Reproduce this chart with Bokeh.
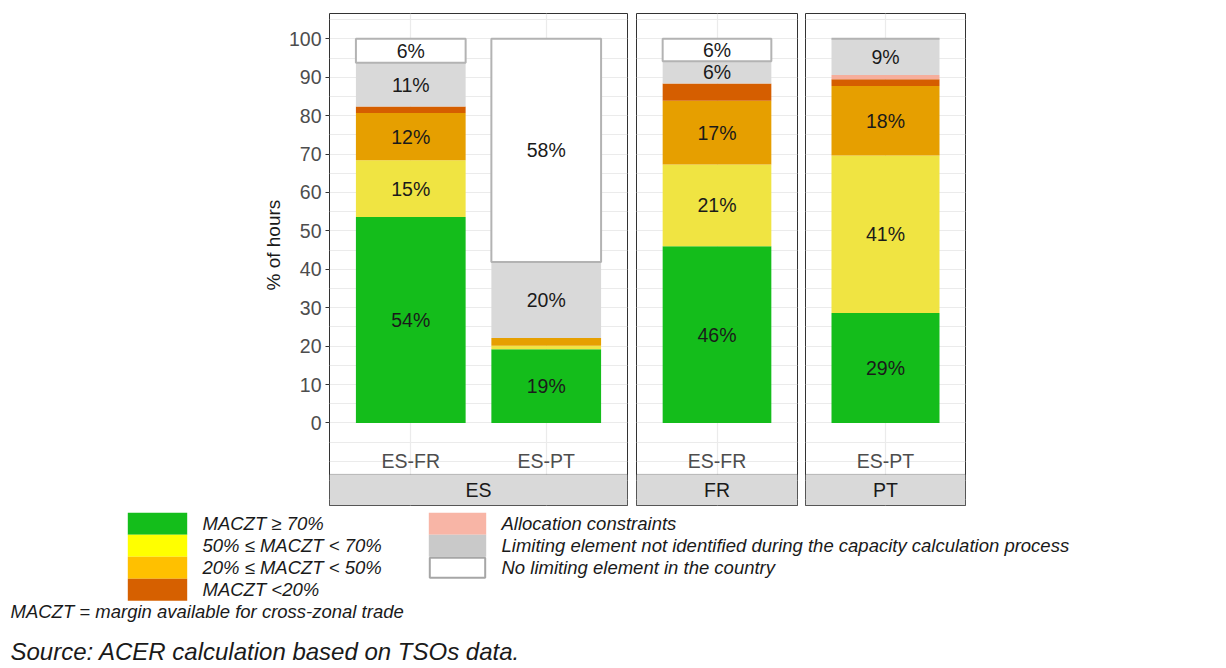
from bokeh.plotting import figure
from bokeh.layouts import row, column
from bokeh.models import (ColumnDataSource, FactorRange, Range1d, FixedTicker,
                          BoxAnnotation, Label, Title)
from bokeh.embed import file_html
from bokeh.resources import INLINE
from bokeh.core.properties import value

FONT = "Liberation Sans"

# ---------------- data ----------------
panels = ["ES", "FR", "PT"]
bar_panel = ["ES", "ES", "FR", "PT"]
bar_border = ["ES-FR", "ES-PT", "ES-FR", "ES-PT"]

series_names = [
    "MACZT \u2265 70%",
    "50% \u2264 MACZT < 70%",
    "20% \u2264 MACZT < 50%",
    "MACZT <20%",
    "Allocation constraints",
    "Limiting element not identified during the capacity calculation process",
    "No limiting element in the country",
]
maczt_ge70 = [53.6, 19.2, 46.0, 28.6]
maczt_50_70 = [14.8, 0.9, 21.3, 41.0]
maczt_20_50 = [12.3, 2.0, 16.6, 18.1]
maczt_lt20 = [1.7, 0.0, 4.5, 1.8]
allocation = [0.0, 0.0, 0.0, 1.1]
not_identified = [11.4, 19.8, 5.8, 9.4]
no_limiting = [6.2, 58.1, 5.8, 0.0]
series_values = [maczt_ge70, maczt_50_70, maczt_20_50, maczt_lt20,
                 allocation, not_identified, no_limiting]

y_ticks = [0, 10, 20, 30, 40, 50, 60, 70, 80, 90, 100]
y_grid_minor = [-20, -15, -10, -5, 5, 15, 25, 35, 45, 55, 65, 75, 85, 95, 105]

note_text = "MACZT = margin available for cross-zonal trade"
source_text = "Source: ACER calculation based on TSOs data."
y_title = "% of hours"

# ---------------- styles ----------------
bar_colors = ["#14BD1B", "#F0E442", "#E69F00", "#D55E00", "#F6AE9C", "#D9D9D9", "#FFFFFF"]
bar_line_colors = [None, None, None, None, None, None, "#B3B3B3"]
bar_line_widths = [1, 1, 1, 1, 1, 1, 2]
legend_colors = ["#14BE1B", "#FFFF00", "#FFC000", "#D66000", "#F8B5A6", "#C9C9C9", "#FFFFFF"]

Y_START, Y_END = -21.5, 106.6
STRIP_TOP = -13.4
X_LABEL_Y = -9.8
LABEL_MIN = 5
BAR_W = 0.81

frame_widths = [298, 161, 160]
border_left = [329, 5, 4]
border_right = [4, 4, 4]
FRAME_H = 492
BORDER_TOP = 13
BORDER_BOTTOM = 5

keys = ["s%d" % i for i in range(len(series_names))]


def make_panel(i, panel):
    idx = [k for k, pn in enumerate(bar_panel) if pn == panel]
    cats = [bar_border[k] for k in idx]
    data = {"border": cats}
    for key, vals in zip(keys, series_values):
        data[key] = [vals[k] for k in idx]
    src = ColumnDataSource(data)
    first = i == 0
    p = figure(
        x_range=FactorRange(factors=cats, range_padding=0.1, range_padding_units="absolute"),
        y_range=Range1d(Y_START, Y_END),
        frame_width=frame_widths[i], frame_height=FRAME_H,
        min_border_left=border_left[i], min_border_right=border_right[i],
        min_border_top=BORDER_TOP, min_border_bottom=BORDER_BOTTOM,
        output_backend="svg", toolbar_location=None,
        y_axis_location="left" if first else None, x_axis_location=None,
    )
    p.outline_line_color = "#333333"
    p.outline_line_width = 1
    p.background_fill_color = "white"

    # grids
    p.ygrid.ticker = FixedTicker(ticks=y_ticks, minor_ticks=y_grid_minor)
    p.ygrid.grid_line_color = "#EBEBEB"
    p.ygrid.minor_grid_line_color = "#EBEBEB"
    p.ygrid.grid_line_width = 1.2
    p.ygrid.minor_grid_line_width = 1
    p.xgrid.grid_line_color = "#EBEBEB"
    p.xgrid.grid_line_width = 1.2

    if first:
        ax = p.yaxis[0]
        ax.ticker = FixedTicker(ticks=y_ticks)
        ax.axis_line_color = None
        ax.major_tick_out = 4
        ax.major_tick_in = 0
        ax.minor_tick_out = 0
        ax.minor_tick_in = 0
        ax.major_tick_line_color = "#333333"
        ax.major_label_standoff = 4
        ax.major_label_text_font = FONT
        ax.major_label_text_font_size = "19.5px"
        ax.major_label_text_color = "#4D4D4D"
        t = Title(text=y_title, align="left", offset=215, vertical_align="bottom",
                  standoff=3, text_font=FONT, text_font_size="19px",
                  text_font_style="normal", text_color="#1A1A1A")
        p.add_layout(t, "left")

    p.vbar_stack(keys, x="border", width=BAR_W, source=src,
                 fill_color=bar_colors, line_color=bar_line_colors,
                 line_width=bar_line_widths)

    # segment labels
    lx, ly, lt = [], [], []
    for k in idx:
        cum = 0.0
        for vals in series_values:
            v = vals[k]
            if v >= LABEL_MIN:
                lx.append(bar_border[k])
                ly.append(cum + v / 2)
                lt.append("%d%%" % round(v))
            cum += v
    p.text(x=lx, y=ly, text=lt, text_align="center", text_baseline="middle",
           text_font=value(FONT), text_font_size="19.5px", text_color="#1A1A1A")

    # category labels inside panel
    p.text(x=cats, y=[X_LABEL_Y] * len(cats), text=cats, text_align="center",
           text_baseline="middle", text_font=value(FONT), text_font_size="19.5px",
           text_color="#4D4D4D")

    # facet strip
    p.add_layout(BoxAnnotation(top=STRIP_TOP, bottom=Y_START, fill_color="#D9D9D9",
                               fill_alpha=1, line_color="#333333", line_width=1))
    p.add_layout(Label(x=len(cats) / 2, y=(STRIP_TOP + Y_START) / 2, text=panel,
                       text_align="center", text_baseline="middle", text_font=FONT,
                       text_font_size="19.5px", text_color="#1A1A1A"))
    return p


figs = [make_panel(i, pn) for i, pn in enumerate(panels)]

# ---------------- legend / notes ----------------
LW, LH = 1218, 156
leg = figure(width=LW, height=LH, x_range=Range1d(0, LW), y_range=Range1d(LH, 0),
             output_backend="svg", toolbar_location=None, min_border=0,
             x_axis_location=None, y_axis_location=None)
leg.grid.visible = False
leg.outline_line_color = None

blocks = [[0, 1, 2, 3], [4, 5, 6]]
key_x = [127.3, 428.3]
key_w = [59.4, 57.4]
text_x = [202, 501]
LEG_TOP = 2.3
ROW_H = 22

for b, members in enumerate(blocks):
    for r, s in enumerate(members):
        top = LEG_TOP + r * ROW_H
        if legend_colors[s] == "#FFFFFF":
            leg.quad(left=[key_x[b] + 1], right=[key_x[b] + key_w[b] - 1],
                     top=[top + 1], bottom=[top + ROW_H - 1],
                     fill_color="white", line_color="#A6A6A6", line_width=2)
        else:
            leg.quad(left=[key_x[b]], right=[key_x[b] + key_w[b]],
                     top=[top], bottom=[top + ROW_H],
                     fill_color=legend_colors[s], line_color=None)
    leg.text(x=[text_x[b]] * len(members),
             y=[LEG_TOP + (r + 0.5) * ROW_H for r in range(len(members))],
             text=[series_names[s] for s in members],
             text_font=value(FONT), text_font_style="italic", text_font_size="18.5px",
             text_baseline="middle", text_color="#1A1A1A")

leg.text(x=[10], y=[100.5], text=[note_text], text_font=value(FONT),
         text_font_style="italic", text_font_size="18.5px", text_baseline="middle",
         text_color="#1A1A1A")
leg.text(x=[10], y=[141], text=[source_text], text_font=value(FONT),
         text_font_style="italic", text_font_size="24px", text_baseline="middle",
         text_color="#1A1A1A")

layout = column(row(*figs, spacing=0), leg, spacing=0)
open("out.html", "w").write(file_html(layout, INLINE))
